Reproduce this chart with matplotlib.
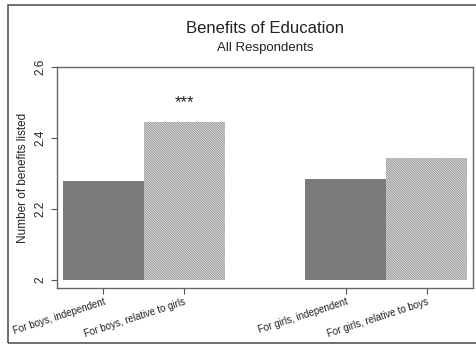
import matplotlib.pyplot as plt
from matplotlib.patches import Rectangle

labels = ['For boys, independent', 'For boys, relative to girls',
          'For girls, independent', 'For girls, relative to boys']
positions = [0, 1, 3, 4]
values = [2.28, 2.445, 2.285, 2.344]
stars = '***'
star_y = 2.50

plt.rcParams['font.family'] = 'Liberation Sans'
plt.rcParams['hatch.linewidth'] = 0.6

fig = plt.figure(figsize=(4.77, 3.53), dpi=100)
ax = fig.add_axes([0.1195, 0.184, 0.872, 0.626])

solid = dict(color='#7b7b7d', linewidth=0)
hatched = dict(facecolor='#e2e2e2', edgecolor='#909090', hatch='\\' * 14, linewidth=0)
for i, (x, v) in enumerate(zip(positions, values)):
    style = solid if i % 2 == 0 else hatched
    ax.bar(x, v - 2, bottom=2, width=1.0, **style)

ax.text(positions[1], star_y, stars, ha='center', va='center', fontsize=12, color='#222222')

ax.set_xlim(-0.574, 4.574)
ax.set_ylim(1.978, 2.6)
ax.set_yticks([2, 2.2, 2.4, 2.6])
ax.set_yticklabels(['2', '2.2', '2.4', '2.6'], rotation=90, va='center', fontsize=8.5)
ax.set_xticks(positions)
ax.set_xticklabels(labels, rotation=18, ha='right', rotation_mode='anchor', fontsize=7)
ax.tick_params(axis='both', direction='out', length=4, color='#555555', labelcolor='#222222')
ax.tick_params(axis='x', pad=2)
ax.set_ylabel('Number of benefits listed', fontsize=8.5, color='#222222', labelpad=4)
for s in ax.spines.values():
    s.set_color('#666666')
    s.set_linewidth(1.0)

fig.text(0.5556, 0.918, 'Benefits of Education', ha='center', va='center', fontsize=12, color='#222222')
fig.text(0.5556, 0.864, 'All Respondents', ha='center', va='center', fontsize=9.5, color='#222222')

# outer frame
fig.patches.append(Rectangle((8 / 477, 10 / 353), 1.0, 1 - 15 / 353, transform=fig.transFigure,
                             fill=False, edgecolor='#555555', linewidth=1.2))

fig.savefig('out.png', dpi=100)
